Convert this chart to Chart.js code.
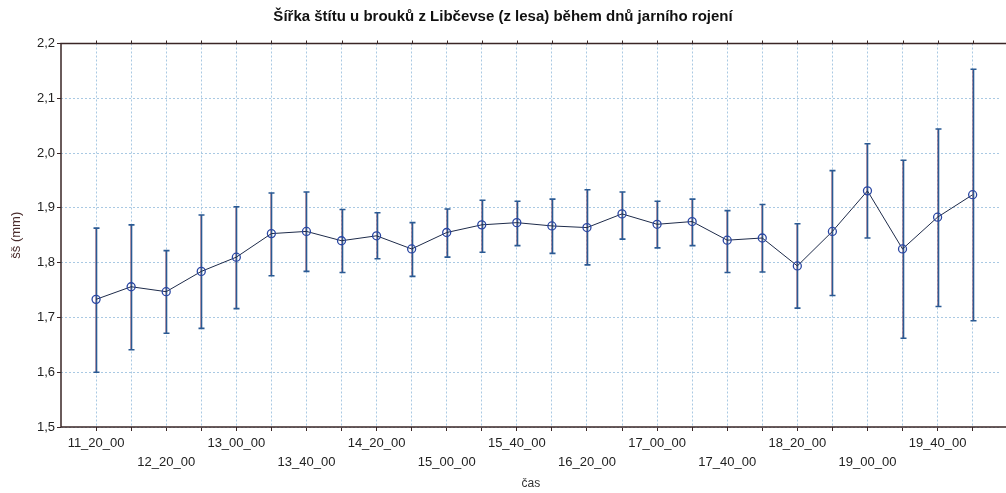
<!DOCTYPE html>
<html>
<head>
<meta charset="utf-8">
<script src="https://cdn.jsdelivr.net/npm/chart.js@4/dist/chart.umd.min.js"></script>
<style>
  html, body { margin: 0; padding: 0; background: #ffffff; }
  #c { display: block; }
</style>
</head>
<body>
<canvas id="c" width="1006" height="493"></canvas>
<script>
// Sampling times (category labels on the x axis)
const times = [
  '11_20_00', '12_00_00', '12_20_00', '12_40_00', '13_00_00', '13_20_00', '13_40_00',
  '14_00_00', '14_20_00', '14_40_00', '15_00_00', '15_20_00', '15_40_00', '16_00_00',
  '16_20_00', '16_40_00', '17_00_00', '17_20_00', '17_40_00', '18_00_00', '18_20_00',
  '18_40_00', '19_00_00', '19_20_00', '19_40_00', '20_00_00'
];

// Mean pronotum width (mm)
const meanWidth = [
  1.733, 1.756, 1.747, 1.784, 1.810, 1.853, 1.857, 1.840, 1.849, 1.825,
  1.855, 1.869, 1.873, 1.867, 1.864, 1.889, 1.870, 1.875, 1.841, 1.845,
  1.794, 1.857, 1.931, 1.825, 1.883, 1.924
];

// Upper and lower ends of the error bars (mm)
const upperWidth = [
  1.863, 1.869, 1.822, 1.887, 1.902, 1.927, 1.929, 1.897, 1.891, 1.873,
  1.898, 1.914, 1.912, 1.916, 1.933, 1.929, 1.912, 1.916, 1.895, 1.906,
  1.871, 1.968, 2.017, 1.987, 2.044, 2.153
];
const lowerWidth = [
  1.600, 1.641, 1.671, 1.680, 1.716, 1.776, 1.784, 1.782, 1.807, 1.775,
  1.810, 1.819, 1.831, 1.817, 1.796, 1.843, 1.827, 1.831, 1.782, 1.783,
  1.717, 1.740, 1.845, 1.662, 1.720, 1.694
];

// Y axis tick values
const yTicks = [1.5, 1.6, 1.7, 1.8, 1.9, 2.0, 2.1, 2.2];

const FONT = '"Liberation Sans", Arial, sans-serif';
const FRAME = '#3a2626';

// Vertical whiskers with small caps, drawn under the markers
const errorBars = {
  id: 'errorBars',
  beforeDatasetsDraw(chart) {
    const { ctx, scales: { x, y } } = chart;
    ctx.save();
    meanWidth.forEach((m, i) => {
      const px = Math.round(x.getPixelForValue(i)) + 0.5;
      const top = y.getPixelForValue(upperWidth[i]);
      const bot = y.getPixelForValue(lowerWidth[i]);
      // soft warm fringe
      ctx.strokeStyle = 'rgba(200,70,80,0.45)';
      ctx.lineWidth = 1;
      ctx.beginPath();
      ctx.moveTo(px - 1, top); ctx.lineTo(px - 1, bot);
      ctx.stroke();
      ctx.strokeStyle = '#2a5a94';
      ctx.lineWidth = 1.6;
      ctx.beginPath();
      ctx.moveTo(px, top); ctx.lineTo(px, bot);
      ctx.moveTo(px - 3, top); ctx.lineTo(px + 3, top);
      ctx.moveTo(px - 3, bot); ctx.lineTo(px + 3, bot);
      ctx.stroke();
    });
    ctx.restore();
  }
};

// Plot frame: left, top and bottom edges
const frame = {
  id: 'frame',
  afterDatasetsDraw(chart) {
    const { ctx, chartArea: a, scales: { x } } = chart;
    ctx.save();
    ctx.strokeStyle = FRAME;
    ctx.lineWidth = 1.5;
    ctx.beginPath();
    ctx.moveTo(chart.width, a.top); ctx.lineTo(a.left, a.top);
    ctx.lineTo(a.left, a.bottom); ctx.lineTo(chart.width, a.bottom);
    ctx.stroke();
    // small outward ticks along the top edge
    ctx.lineWidth = 1;
    ctx.beginPath();
    times.forEach((t, i) => {
      const px = Math.round(x.getPixelForValue(i)) + 0.5;
      ctx.moveTo(px, a.top); ctx.lineTo(px, a.top - 3);
    });
    ctx.stroke();
    ctx.restore();
  }
};

new Chart(document.getElementById('c'), {
  type: 'line',
  data: {
    datasets: [{
      data: meanWidth.map((v, i) => ({ x: i, y: v })),
      borderColor: '#1e2b4a',
      borderWidth: 1,
      pointRadius: 4,
      pointBorderWidth: 1.3,
      pointBorderColor: '#2b47a3',
      pointBackgroundColor: 'rgba(255,255,255,0)',
      tension: 0
    }]
  },
  options: {
    responsive: false,
    animation: false,
    devicePixelRatio: 1,
    layout: { padding: { left: 0, right: 0, top: 0, bottom: 0 } },
    plugins: {
      legend: { display: false },
      tooltip: { enabled: false },
      title: {
        display: true,
        text: 'Šířka štítu u brouků z Libčevse (z lesa) během dnů jarního rojení',
        color: '#111',
        font: { family: FONT, size: 15, weight: 'bold', lineHeight: 1.2 },
        padding: { top: 8, bottom: 17.5 }
      }
    },
    scales: {
      x: {
        type: 'linear',
        min: -1,
        max: 25.8,
        afterBuildTicks(s) { s.ticks = times.map((t, i) => ({ value: i })); },
        afterFit(s) { s.height = 66; },
        border: { display: false, dash: [2, 2] },
        grid: {
          color: '#a9c9e3',
          lineWidth: 1,
          tickColor: FRAME,
          tickLength: 4,
          tickWidth: 1
        },
        ticks: {
          autoSkip: false,
          maxRotation: 0,
          minRotation: 0,
          padding: 3,
          color: '#222',
          font: { family: FONT, size: 13, lineHeight: 1.45 },
          callback(v) {
            const i = Math.round(v);
            if (i % 4 === 0) return [times[i]];
            if (i % 4 === 2) return ['', times[i]];
            return '';
          }
        },
        title: {
          display: true,
          text: 'čas',
          color: '#333',
          font: { family: FONT, size: 12 },
          padding: { top: 0, bottom: 2 }
        }
      },
      y: {
        min: 1.5,
        max: 2.2,
        afterBuildTicks(s) { s.ticks = yTicks.map(v => ({ value: v })); },
        afterFit(s) { s.width = 61; },
        border: { display: false, dash: [2, 2] },
        grid: {
          color: '#a9c9e3',
          lineWidth: 1,
          tickColor: FRAME,
          tickLength: 4,
          tickWidth: 1
        },
        ticks: {
          padding: 2,
          color: '#222',
          font: { family: FONT, size: 13 },
          callback(v) { return v.toFixed(1).replace('.', ','); }
        },
        title: {
          display: true,
          text: 'šš (mm)',
          color: '#4a2c2c',
          font: { family: FONT, size: 13 },
          padding: { top: 9, bottom: 0 }
        }
      }
    }
  },
  plugins: [errorBars, frame]
});
</script>
</body>
</html>
